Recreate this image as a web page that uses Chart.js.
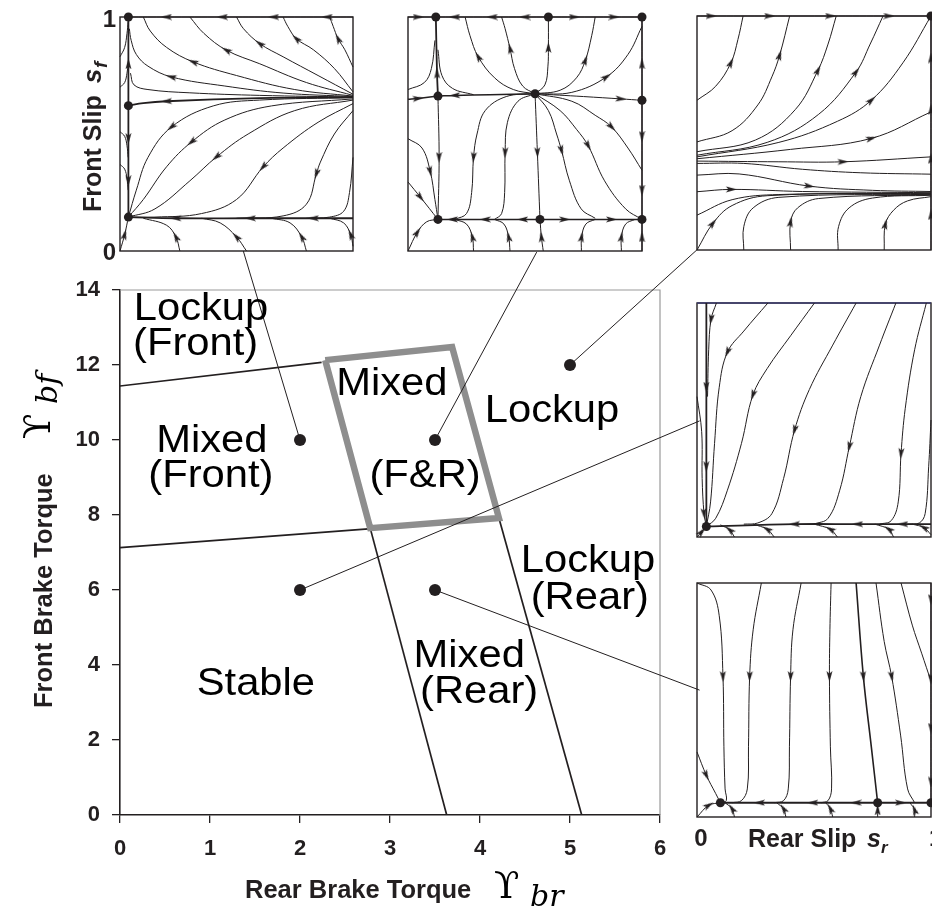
<!DOCTYPE html>
<html>
<head>
<meta charset="utf-8">
<script src="https://cdn.jsdelivr.net/npm/chart.js@4.4.1/dist/chart.umd.min.js"></script>
<style>
html,body{margin:0;padding:0;background:#fff;}
#wrap{position:relative;width:932px;height:912px;overflow:hidden;background:#fff;}
#wrap canvas{position:absolute;}
</style>
</head>
<body>
<div id="wrap">
  <canvas id="main" width="932" height="912" style="left:0;top:0;width:932px;height:912px"></canvas>
</div>
<script>
// ================= DATA =================
// main map: rear brake torque (x) vs front brake torque (y)
const xTickValues = [0, 1, 2, 3, 4, 5, 6];
const yTickValues = [0, 2, 4, 6, 8, 10, 12, 14];
const frontLockupBoundary = [[0, 11.44], [2.24, 12.07]];
const frontMixedBoundary  = [[0, 7.13], [2.76, 7.63]];
const rearMixedBoundary   = [[2.78, 7.65], [3.63, 0]];
const rearLockupBoundary  = [[4.21, 7.92], [5.13, 0]];
const mixedFRBox = [[2.28, 12.13], [3.69, 12.48], [4.21, 7.92], [2.78, 7.65], [2.28, 12.13]];
const samplePoints  = [[2, 10], [3.5, 10], [5, 12], [2, 6], [3.5, 6]];
const connectorEnds = [[1.37, 15.04], [4.63, 15.01], [6.41, 15.07], [6.44, 10.51], [6.44, 3.33]];
const regionNames = ['Lockup', '(Front)', 'Mixed', '(Front)', 'Mixed', '(F&R)', 'Lockup', 'Lockup', '(Rear)', 'Mixed', '(Rear)', 'Stable'];
const regionX     = [0.90, 0.84, 1.02, 1.01, 3.02, 3.39, 4.80, 5.20, 5.22, 3.88, 3.99, 1.51];
const regionY     = [13.2, 12.27, 9.69, 8.75, 11.2, 8.75, 10.49, 6.49, 5.50, 3.95, 2.99, 3.20];

// phase portraits: rear slip s_r (x, 0..1) vs front slip s_f (y, 0..1)
// each stream: p = points in flow direction, a = indices carrying an arrow head, w = line width
const mixedFrontDots = [[0.036, 1], [0.036, 0.621], [0.036, 0.145]];
const mixedFrontStreams = [
  {p: [[1, 1], [0.89, 1], [0.66, 1], [0.44, 1], [0.2, 1], [0.036, 1]], a: [1, 2, 3, 4]},
  {p: [[0.036, 0.621], [0.036, 0.8], [0.036, 1]], a: [1], w: 1.8},
  {p: [[0.036, 0.621], [0.036, 0.48], [0.036, 0.3], [0.036, 0.145]], a: [1, 2], w: 1.8},
  {p: [[1, 0.14], [0.83, 0.14], [0.56, 0.14], [0.24, 0.14], [0.036, 0.145]], a: [1, 2, 3], w: 1.8},
  {p: [[1, 0.658], [0.6, 0.653], [0.2, 0.64], [0.1, 0.632], [0.036, 0.621]], a: [2], w: 1.8},
  {p: [[1, 0.658], [0.6, 0.665], [0.3, 0.676], [0.12, 0.69], [0.06, 0.71], [0.045, 0.76]], a: []},
  {p: [[1, 0.66], [0.7, 0.675], [0.45, 0.705], [0.22, 0.744], [0.12, 0.79], [0.07, 0.84], [0.048, 0.9], [0.04, 0.95]], a: [3]},
  {p: [[1, 0.662], [0.75, 0.69], [0.5, 0.75], [0.314, 0.808], [0.2, 0.87], [0.13, 0.94], [0.1, 1]], a: [3]},
  {p: [[1, 0.665], [0.8, 0.72], [0.6, 0.8], [0.457, 0.858], [0.36, 0.93], [0.3, 1]], a: [3]},
  {p: [[1, 0.67], [0.85, 0.75], [0.7, 0.83], [0.6, 0.886], [0.53, 0.95], [0.5, 1]], a: [3]},
  {p: [[1, 0.68], [0.92, 0.78], [0.83, 0.86], [0.757, 0.907], [0.72, 0.96], [0.7, 1]], a: [3]},
  {p: [[1, 0.786], [0.965, 0.86], [0.936, 0.907], [0.915, 0.96], [0.9, 1]], a: [2]},
  {p: [[0, 0.83], [0.02, 0.87], [0.03, 0.93], [0.035, 0.98]], a: []},
  {p: [[0, 0.7], [0.02, 0.72], [0.03, 0.76], [0.035, 0.8]], a: []},
  {p: [[0, 0.51], [0.02, 0.49], [0.03, 0.45], [0.035, 0.4]], a: []},
  {p: [[0, 0.37], [0.02, 0.35], [0.03, 0.31], [0.035, 0.26]], a: []},
  {p: [[1, 0.655], [0.6, 0.645], [0.4, 0.62], [0.221, 0.53], [0.12, 0.4], [0.07, 0.26], [0.036, 0.145]], a: [3]},
  {p: [[1, 0.65], [0.65, 0.62], [0.45, 0.56], [0.307, 0.466], [0.2, 0.36], [0.1, 0.22], [0.036, 0.145]], a: [3]},
  {p: [[1, 0.645], [0.75, 0.6], [0.55, 0.5], [0.414, 0.402], [0.3, 0.3], [0.15, 0.18], [0.036, 0.145]], a: [3]},
  {p: [[1, 0.63], [0.85, 0.55], [0.7, 0.44], [0.614, 0.359], [0.5, 0.22], [0.35, 0.16], [0.15, 0.145], [0.036, 0.145]], a: [3]},
  {p: [[1, 0.6], [0.92, 0.5], [0.86, 0.38], [0.843, 0.33], [0.8, 0.2], [0.7, 0.15], [0.5, 0.14]], a: [3]},
  {p: [[1, 0.4], [0.985, 0.25], [0.96, 0.17], [0.9, 0.145], [0.8, 0.14]], a: []},
  {p: [[0, 0], [0.02, 0.07], [0.036, 0.145]], a: [1]},
  {p: [[0.257, 0], [0.24, 0.06], [0.2, 0.11], [0.1, 0.14]], a: [1]},
  {p: [[0.543, 0], [0.5, 0.06], [0.43, 0.12], [0.35, 0.14]], a: [1]},
  {p: [[0.8, 0], [0.78, 0.06], [0.73, 0.12], [0.65, 0.14]], a: [1]},
  {p: [[1, 0.02], [0.99, 0.07], [0.96, 0.12], [0.9, 0.14]], a: [1]}
];

const mixedBothDots = [[0.119, 1], [0.6, 1], [1, 1], [0.128, 0.662], [0.543, 0.672], [1, 0.644], [0.128, 0.135], [0.564, 0.135], [1, 0.135]];
const mixedBothStreams = [
  {p: [[0, 1], [0.043, 1], [0.119, 1]], a: [1]},
  {p: [[0.6, 1], [0.5, 1], [0.36, 1], [0.2, 1], [0.119, 1]], a: [1, 2, 3]},
  {p: [[0.6, 1], [0.71, 1], [0.88, 1], [1, 1]], a: [1, 2]},
  {p: [[0.128, 0.662], [0.124, 0.76], [0.119, 1]], a: [1], w: 1.8},
  {p: [[0.128, 0.662], [0.133, 0.4], [0.128, 0.135]], a: [1]},
  {p: [[0, 0.648], [0.043, 0.652], [0.128, 0.662]], a: [1], w: 1.5},
  {p: [[0.543, 0.672], [0.35, 0.668], [0.2, 0.665], [0.128, 0.662]], a: [2], w: 1.5},
  {p: [[0.543, 0.672], [0.75, 0.66], [0.91, 0.65], [1, 0.644]], a: [2]},
  {p: [[1, 0.644], [1, 0.8], [1, 1]], a: [1]},
  {p: [[1, 0.644], [1, 0.49], [1, 0.26], [1, 0.135]], a: [1, 2]},
  {p: [[0.564, 0.135], [0.49, 0.135], [0.33, 0.135], [0.19, 0.135], [0.128, 0.135]], a: [1, 2, 3], w: 1.5},
  {p: [[0.564, 0.135], [0.67, 0.135], [0.87, 0.135], [1, 0.135]], a: [1, 2], w: 1.5},
  {p: [[0.543, 0.672], [0.553, 0.42], [0.564, 0.135]], a: [1]},
  {p: [[0.543, 0.672], [0.45, 0.69], [0.37, 0.74], [0.3, 0.83], [0.265, 0.92], [0.244, 1]], a: [3]},
  {p: [[0.543, 0.672], [0.49, 0.705], [0.455, 0.78], [0.436, 0.865], [0.415, 0.95], [0.4, 1]], a: [3]},
  {p: [[0.543, 0.672], [0.585, 0.71], [0.598, 0.79], [0.6, 0.87], [0.6, 1]], a: [3]},
  {p: [[0.543, 0.672], [0.65, 0.687], [0.72, 0.74], [0.758, 0.815], [0.785, 0.92], [0.8, 1]], a: [3]},
  {p: [[0.543, 0.672], [0.7, 0.678], [0.848, 0.744], [0.94, 0.84], [1, 0.96]], a: [2]},
  {p: [[0, 0.69], [0.07, 0.72], [0.1, 0.78], [0.115, 0.9]], a: []},
  {p: [[0.28, 0.668], [0.19, 0.695], [0.145, 0.75], [0.128, 0.86]], a: []},
  {p: [[0.543, 0.672], [0.42, 0.66], [0.33, 0.6], [0.295, 0.5], [0.28, 0.4], [0.272, 0.25], [0.25, 0.16], [0.2, 0.135]], a: [4]},
  {p: [[0.543, 0.672], [0.47, 0.64], [0.425, 0.55], [0.415, 0.42], [0.413, 0.25], [0.4, 0.16], [0.37, 0.135]], a: [3]},
  {p: [[0.543, 0.672], [0.6, 0.6], [0.635, 0.5], [0.656, 0.43], [0.69, 0.3], [0.74, 0.18], [0.8, 0.14]], a: [3]},
  {p: [[0.543, 0.672], [0.65, 0.6], [0.72, 0.52], [0.77, 0.45], [0.84, 0.3], [0.93, 0.18], [1, 0.135]], a: [3]},
  {p: [[0.543, 0.672], [0.7, 0.64], [0.8, 0.58], [0.87, 0.53], [0.94, 0.44], [1, 0.345]], a: [3]},
  {p: [[0, 0.48], [0.06, 0.44], [0.095, 0.34], [0.115, 0.22], [0.128, 0.135]], a: [2]},
  {p: [[0, 0.295], [0.053, 0.23], [0.128, 0.135]], a: [1]},
  {p: [[0, 0], [0.04, 0.08], [0.08, 0.125], [0.128, 0.135]], a: [1]},
  {p: [[0.28, 0], [0.275, 0.06], [0.25, 0.115], [0.2, 0.135]], a: [1]},
  {p: [[0.436, 0], [0.43, 0.06], [0.41, 0.115], [0.37, 0.135]], a: [1]},
  {p: [[0.578, 0], [0.57, 0.06], [0.564, 0.135]], a: [1]},
  {p: [[0.741, 0], [0.742, 0.06], [0.76, 0.115], [0.8, 0.135]], a: [1]},
  {p: [[0.912, 0], [0.912, 0.06], [0.93, 0.115], [0.97, 0.135]], a: [1]},
  {p: [[1, 0], [1, 0.06], [1, 0.135]], a: [1]}
];

const lockupDots = [[1, 1]];
const lockupStreams = [
  {p: [[0, 1], [0.06, 1], [0.31, 1], [0.57, 1], [0.82, 1], [1, 1]], a: [1, 2, 3, 4]},
  {p: [[1, 0], [1, 0.15], [1, 0.39], [1, 0.6], [1, 0.82], [1, 1]], a: [1, 2, 3, 4]},
  {p: [[0, 0.64], [0.08, 0.7], [0.145, 0.8], [0.175, 0.9], [0.197, 1]], a: [2]},
  {p: [[0, 0.462], [0.15, 0.51], [0.26, 0.62], [0.32, 0.74], [0.353, 0.832], [0.396, 1]], a: [4]},
  {p: [[0, 0.42], [0.25, 0.47], [0.42, 0.6], [0.517, 0.768], [0.56, 0.88], [0.595, 1]], a: [3]},
  {p: [[0, 0.405], [0.3, 0.46], [0.52, 0.58], [0.68, 0.761], [0.74, 0.88], [0.795, 1]], a: [3]},
  {p: [[0, 0.398], [0.35, 0.46], [0.6, 0.55], [0.745, 0.64], [0.88, 0.8], [1, 1]], a: [3]},
  {p: [[0, 0.39], [0.4, 0.43], [0.745, 0.477], [1, 0.59]], a: [2]},
  {p: [[0, 0.38], [0.35, 0.377], [0.624, 0.377], [1, 0.398]], a: [2]},
  {p: [[0, 0.37], [0.2, 0.37], [0.45, 0.345], [0.7, 0.33], [1, 0.324]], a: []},
  {p: [[0, 0.32], [0.18, 0.325], [0.48, 0.273], [0.75, 0.255], [1, 0.25]], a: [2]},
  {p: [[0, 0.249], [0.147, 0.259], [0.45, 0.25], [1, 0.245]], a: [1]},
  {p: [[0, 0.149], [0.15, 0.215], [0.35, 0.237], [1, 0.242]], a: []},
  {p: [[0, 0], [0.068, 0.114], [0.15, 0.19], [0.3, 0.232], [1, 0.24]], a: [1]},
  {p: [[0.2, 0], [0.2, 0.1], [0.24, 0.18], [0.35, 0.225], [1, 0.238]], a: []},
  {p: [[0.4, 0], [0.4, 0.12], [0.43, 0.18], [0.52, 0.22], [1, 0.236]], a: [1]},
  {p: [[0.603, 0], [0.605, 0.1], [0.65, 0.18], [0.75, 0.222], [1, 0.234]], a: []},
  {p: [[0.8, 0], [0.805, 0.11], [0.84, 0.17], [0.9, 0.21], [1, 0.228]], a: [1]}
];

const stableDots = [[0.04, 0.045]];
const stableStreams = [
  {p: [[0.04, 1], [0.04, 0.64], [0.04, 0.3], [0.04, 0.045]], a: [1, 2], w: 1.8},
  {p: [[0.083, 1], [0.06, 0.93], [0.05, 0.8], [0.045, 0.6]], a: [1]},
  {p: [[0, 0.6], [0.02, 0.45], [0.022, 0.25], [0.03, 0.1], [0.04, 0.045]], a: [3]},
  {p: [[0.303, 1], [0.2, 0.88], [0.13, 0.79], [0.095, 0.64], [0.075, 0.4], [0.058, 0.15], [0.04, 0.045]], a: [2]},
  {p: [[0.502, 1], [0.4, 0.86], [0.3, 0.72], [0.239, 0.607], [0.19, 0.4], [0.13, 0.2], [0.08, 0.08], [0.04, 0.045]], a: [3]},
  {p: [[0.68, 1], [0.58, 0.82], [0.48, 0.63], [0.417, 0.457], [0.37, 0.25], [0.32, 0.1], [0.26, 0.06], [0.2, 0.055]], a: [3]},
  {p: [[0.85, 1], [0.78, 0.82], [0.7, 0.6], [0.651, 0.386], [0.61, 0.2], [0.56, 0.08], [0.5, 0.055]], a: [3]},
  {p: [[0.98, 1], [0.93, 0.8], [0.89, 0.55], [0.872, 0.357], [0.86, 0.15], [0.83, 0.07], [0.78, 0.055]], a: [3]},
  {p: [[1, 0.5], [0.99, 0.3], [0.975, 0.1], [0.95, 0.06], [0.9, 0.055]], a: []},
  {p: [[1, 0.055], [0.88, 0.055], [0.687, 0.055], [0.417, 0.055], [0.04, 0.045]], a: [1, 2, 3], w: 1.8},
  {p: [[0, 0], [0.02, 0.022], [0.04, 0.045]], a: [1]},
  {p: [[0.16, 0], [0.14, 0.03], [0.1, 0.052]], a: [1]},
  {p: [[0.33, 0], [0.3, 0.033], [0.24, 0.055]], a: [1]},
  {p: [[0.6, 0], [0.57, 0.033], [0.5, 0.055]], a: [1]},
  {p: [[0.84, 0], [0.82, 0.033], [0.76, 0.055]], a: [1]},
  {p: [[1, 0.01], [0.97, 0.04], [0.92, 0.055]], a: [1]}
];

const mixedRearDots = [[0.1, 0.061], [0.772, 0.061], [1, 0.061]];
const mixedRearStreams = [
  {p: [[0.772, 0.061], [0.68, 0.061], [0.495, 0.061], [0.267, 0.061], [0.1, 0.061]], a: [1, 2, 3], w: 1.8},
  {p: [[0.772, 0.061], [0.87, 0.061], [1, 0.061]], a: [1], w: 1.8},
  {p: [[1, 1], [1, 0.93], [1, 0.59], [1, 0.38], [1, 0.15], [1, 0.061]], a: [1, 2, 3, 4]},
  {p: [[0, 1], [0.06, 0.97], [0.095, 0.86], [0.111, 0.6], [0.115, 0.3], [0.12, 0.12], [0.125, 0.07], [0.1, 0.061]], a: [3]},
  {p: [[0.275, 1], [0.24, 0.8], [0.225, 0.6], [0.22, 0.3], [0.215, 0.12], [0.19, 0.07], [0.15, 0.061]], a: [2]},
  {p: [[0.445, 1], [0.41, 0.8], [0.4, 0.6], [0.395, 0.3], [0.39, 0.12], [0.37, 0.07], [0.33, 0.061]], a: [2]},
  {p: [[0.573, 1], [0.568, 0.8], [0.566, 0.6], [0.57, 0.3], [0.575, 0.12], [0.56, 0.07], [0.53, 0.061]], a: [2]},
  {p: [[0.68, 1], [0.711, 0.6], [0.745, 0.3], [0.772, 0.061]], a: [1], w: 1.6},
  {p: [[0.765, 1], [0.8, 0.75], [0.832, 0.6], [0.87, 0.35], [0.9, 0.12], [0.93, 0.061]], a: [2]},
  {p: [[0.872, 1], [0.92, 0.82], [0.96, 0.7], [1, 0.58]], a: []},
  {p: [[0, 0.278], [0.04, 0.178], [0.08, 0.1], [0.1, 0.061]], a: [1]},
  {p: [[0, 0], [0.05, 0.05], [0.1, 0.061]], a: [1]},
  {p: [[0.16, 0], [0.15, 0.035], [0.12, 0.061]], a: [1]},
  {p: [[0.38, 0], [0.37, 0.035], [0.34, 0.061]], a: [1]},
  {p: [[0.58, 0], [0.57, 0.035], [0.55, 0.061]], a: [1]},
  {p: [[0.772, 0], [0.772, 0.03], [0.772, 0.061]], a: [1]},
  {p: [[0.93, 0], [0.93, 0.03], [0.91, 0.061]], a: [1]}
];

// ================= STYLE / LAYOUT =================
const INK = '#231f20';
const SANS = "'Liberation Sans', Arial, Helvetica, sans-serif";
const SERIF = "'DejaVu Serif', 'Liberation Serif', serif";
const PAD = 8;
const insetLayout = [
  {id: 'pfront', left: 120, top: 17, w: 233, h: 234, streams: mixedFrontStreams, dots: mixedFrontDots},
  {id: 'pboth',  left: 408, top: 17, w: 234, h: 234, streams: mixedBothStreams, dots: mixedBothDots},
  {id: 'plock',  left: 697, top: 16, w: 234, h: 234, streams: lockupStreams, dots: lockupDots},
  {id: 'pstab',  left: 697, top: 303, w: 234, h: 234, streams: stableStreams, dots: stableDots, topColor: '#3e3e70'},
  {id: 'prear',  left: 697, top: 583, w: 234, h: 234, streams: mixedRearStreams, dots: mixedRearDots}
];

const ARROW = (() => {
  const c = document.createElement('canvas');
  c.width = 7; c.height = 11;
  const g = c.getContext('2d');
  g.fillStyle = INK;
  g.beginPath(); g.moveTo(3.5, 0); g.lineTo(6.5, 11); g.lineTo(3.5, 8.5); g.lineTo(0.5, 11); g.closePath(); g.fill();
  return c;
})();

const pts = arr => arr.map(q => ({x: q[0], y: q[1]}));

function streamDataset(s) {
  const arrows = s.a || [];
  return {
    data: pts(s.p), showLine: true, fill: false,
    borderColor: INK, borderWidth: s.w || 1, tension: 0.38,
    pointStyle: c => arrows.includes(c.dataIndex) ? ARROW : 'circle',
    pointRadius: c => arrows.includes(c.dataIndex) ? 4 : 0,
    pointHoverRadius: 0,
    pointRotation: c => {
      const d = c.dataset.data, i = c.dataIndex;
      if (i === undefined || !d[i]) return 0;
      const sx = c.chart.scales.x, sy = c.chart.scales.y;
      const a = d[Math.max(0, i - 1)], b = d[Math.min(d.length - 1, i + 1)];
      const dx = sx.getPixelForValue(b.x) - sx.getPixelForValue(a.x);
      const dy = sy.getPixelForValue(b.y) - sy.getPixelForValue(a.y);
      return Math.atan2(dy, dx) * 180 / Math.PI + 90;
    },
    clip: 6
  };
}

const framePlugin = {
  id: 'frame',
  beforeDatasetsDraw(chart, args, opts) {
    const {ctx, chartArea: a} = chart;
    ctx.save();
    ctx.strokeStyle = INK; ctx.lineWidth = 1.4;
    ctx.strokeRect(a.left, a.top, a.right - a.left, a.bottom - a.top);
    if (opts.topColor) {
      ctx.strokeStyle = opts.topColor; ctx.lineWidth = 1.6;
      ctx.beginPath(); ctx.moveTo(a.left, a.top); ctx.lineTo(a.right, a.top); ctx.stroke();
    }
    ctx.restore();
  }
};

// ================= INSETS =================
const wrap = document.getElementById('wrap');
insetLayout.forEach(L => {
  const cv = document.createElement('canvas');
  cv.id = L.id;
  cv.width = L.w + 2 * PAD; cv.height = L.h + 2 * PAD;
  cv.style.left = (L.left - PAD) + 'px'; cv.style.top = (L.top - PAD) + 'px';
  cv.style.width = cv.width + 'px'; cv.style.height = cv.height + 'px';
  wrap.appendChild(cv);
  const datasets = [{
    data: pts(L.dots), showLine: false, pointRadius: 4.5, pointBackgroundColor: INK,
    pointBorderWidth: 0, pointHoverRadius: 4.5, clip: false
  }].concat(L.streams.map(streamDataset));
  new Chart(cv, {
    type: 'scatter',
    data: {datasets},
    options: {
      responsive: false, animation: false, events: [], devicePixelRatio: 1,
      layout: {padding: PAD},
      plugins: {legend: {display: false}, tooltip: {enabled: false}, frame: {topColor: L.topColor || null}},
      scales: {
        x: {type: 'linear', min: 0, max: 1, display: false},
        y: {type: 'linear', min: 0, max: 1, display: false}
      }
    },
    plugins: [framePlugin]
  });
});

// ================= MAIN CHART =================
function rotText(g, txt, x, y, font) {
  g.save(); g.translate(x, y); g.rotate(-Math.PI / 2);
  g.font = font; g.textAlign = 'left'; g.textBaseline = 'alphabetic';
  g.fillText(txt, 0, 0);
  const w = g.measureText(txt).width;
  g.restore();
  return w;
}

const annotatePlugin = {
  id: 'annotate',
  beforeDatasetsDraw(chart) {
    const {ctx, chartArea: a} = chart;
    ctx.save();
    ctx.strokeStyle = '#9a9a9a'; ctx.lineWidth = 1.2;
    ctx.beginPath();
    ctx.moveTo(a.left, a.top); ctx.lineTo(a.right, a.top); ctx.lineTo(a.right, a.bottom);
    ctx.stroke();
    ctx.restore();
  },
  afterDraw(chart) {
    const {ctx} = chart;
    const sx = chart.scales.x, sy = chart.scales.y;
    ctx.save();
    ctx.fillStyle = '#000';
    // region names
    regionNames.forEach((t, i) => {
      ctx.save();
      ctx.translate(sx.getPixelForValue(regionX[i]), sy.getPixelForValue(regionY[i]));
      ctx.scale(1.07, 1);
      ctx.font = '39px ' + SANS; ctx.textAlign = 'center'; ctx.textBaseline = 'alphabetic';
      ctx.fillText(t, 0, 0);
      ctx.restore();
    });
    ctx.fillStyle = INK;
    // bottom axis title
    ctx.font = 'bold 25.5px ' + SANS; ctx.textAlign = 'left'; ctx.textBaseline = 'alphabetic';
    ctx.fillText('Rear Brake Torque', 245, 898);
    ctx.fillStyle = '#000';
    ctx.font = '37px ' + SERIF;
    ctx.fillText('\u03D2', 494, 898);
    ctx.font = 'italic 30px ' + SERIF;
    ctx.fillText('br', 530, 906);
    // left axis title
    ctx.fillStyle = INK;
    rotText(ctx, 'Front Brake Torque', 52, 708, 'bold 25.5px ' + SANS);
    ctx.fillStyle = '#000';
    rotText(ctx, '\u03D2', 50, 439, '37px ' + SERIF);
    rotText(ctx, 'bf', 57, 404, 'italic 30px ' + SERIF);
    // inset axis annotations
    ctx.fillStyle = INK;
    ctx.font = 'bold 24px ' + SANS; ctx.textAlign = 'right';
    ctx.fillText('1', 116, 27);
    ctx.fillText('0', 116, 260);
    ctx.textAlign = 'center';
    ctx.fillText('0', 701, 846);
    ctx.textAlign = 'left';
    ctx.fillText('1', 929, 846);
    ctx.font = 'bold 25px ' + SANS;
    ctx.fillText('Rear Slip', 748, 847);
    ctx.font = 'bold italic 25px ' + SANS;
    ctx.fillText('s', 867, 847);
    ctx.font = 'bold italic 17px ' + SANS;
    ctx.fillText('r', 881, 853);
    const w1 = rotText(ctx, 'Front Slip', 101, 212, 'bold 25px ' + SANS);
    const w2 = rotText(ctx, 's', 101, 212 - w1 - 12, 'bold italic 26px ' + SANS);
    rotText(ctx, 'f', 107, 212 - w1 - 12 - w2 - 1, 'bold italic 19px ' + SANS);
    ctx.restore();
  }
};

const lineDs = (arr, color, width, extra) => Object.assign({
  data: pts(arr), showLine: true, fill: false, borderColor: color, borderWidth: width,
  pointRadius: 0, pointHoverRadius: 0, tension: 0
}, extra || {});

const mainDatasets = [
  {data: pts(samplePoints), showLine: false, pointRadius: 6, pointBackgroundColor: INK, pointBorderWidth: 0, pointHoverRadius: 6}
]
  .concat(samplePoints.map((p, i) => lineDs([p, connectorEnds[i]], INK, 1, {clip: false})))
  .concat([
    lineDs(mixedFRBox, '#8e8e8e', 6.5, {borderJoinStyle: 'miter'}),
    lineDs(frontLockupBoundary, INK, 1.7),
    lineDs(frontMixedBoundary, INK, 1.7),
    lineDs(rearMixedBoundary, INK, 1.7),
    lineDs(rearLockupBoundary, INK, 1.7)
  ]);

new Chart(document.getElementById('main'), {
  type: 'scatter',
  data: {datasets: mainDatasets},
  options: {
    responsive: false, animation: false, events: [], devicePixelRatio: 1,
    layout: {padding: {left: 50, right: 272, top: 290, bottom: 37}},
    plugins: {legend: {display: false}, tooltip: {enabled: false}},
    scales: {
      x: {
        type: 'linear', min: 0, max: 6,
        afterBuildTicks: s => { s.ticks = xTickValues.map(v => ({value: v})); },
        afterFit: s => { s.height = 60; },
        ticks: {color: INK, font: {family: SANS, size: 22, weight: 'bold'}, padding: 13},
        grid: {drawOnChartArea: false, drawTicks: true, tickLength: 8, color: INK, lineWidth: 1.3},
        border: {color: INK, width: 1.6}
      },
      y: {
        type: 'linear', min: 0, max: 14,
        afterBuildTicks: s => { s.ticks = yTickValues.map(v => ({value: v})); },
        afterFit: s => { s.width = 70; },
        ticks: {color: INK, font: {family: SANS, size: 22, weight: 'bold'}, padding: 12},
        grid: {drawOnChartArea: false, drawTicks: true, tickLength: 8, color: INK, lineWidth: 1.3},
        border: {color: INK, width: 1.6}
      }
    }
  },
  plugins: [annotatePlugin]
});
</script>
</body>
</html>
